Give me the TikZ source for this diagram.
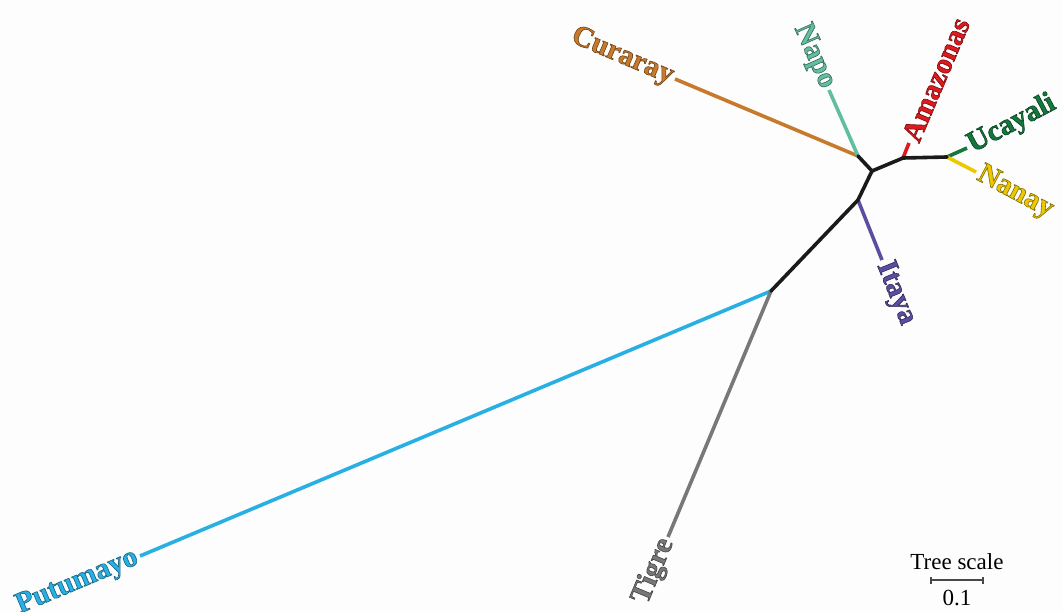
\documentclass[tikz,border=0pt]{standalone}
\usepackage{fontspec}
\setmainfont{Liberation Serif}
\definecolor{cCuraray}{RGB}{200,122,44}
\definecolor{cNapo}{RGB}{98,190,160}
\definecolor{cAmazonas}{RGB}{222,26,30}
\definecolor{cUcayali}{RGB}{18,120,60}
\definecolor{cNanay}{RGB}{236,200,0}
\definecolor{cItaya}{RGB}{90,78,160}
\definecolor{cTigre}{RGB}{120,120,120}
\definecolor{cPutumayo}{RGB}{40,175,228}
\definecolor{cInner}{RGB}{26,26,26}
\definecolor{cBack}{RGB}{253,253,253}
% text filled in its colour and stroked with a thin darker edge (PDF render mode 2)
\newcommand\edged[2]{\special{pdf:literal direct 2 Tr 0.6 w #1 RG}#2\special{pdf:literal direct 0 Tr}}
\begin{document}
\begin{tikzpicture}[x=1pt,y=-1pt,
  branch/.style={line width=3.6pt, line cap=butt},
  inner/.style={line width=3.6pt, color=cInner, line join=round, line cap=round},
  leaftext/.style={font=\fontsize{29.5}{33}\selectfont\bfseries, inner sep=3pt},
  scaletext/.style={font=\fontsize{23}{27}\selectfont, inner sep=1pt}]
\fill[cBack] (0,0) rectangle (1063,612);
\useasboundingbox (0,0) rectangle (1063,612);

% internal vertices
\coordinate (A) at (771,291);
\coordinate (B) at (858,200);
\coordinate (C) at (872,171);
\coordinate (D) at (858,156);
\coordinate (E) at (903,158);
\coordinate (F) at (947,157);

% leaf tips
\coordinate (lPutumayo) at (140,556);
\coordinate (lTigre) at (668,537);
\coordinate (lItaya) at (882,260);
\coordinate (lCuraray) at (675,79);
\coordinate (lNapo) at (829,90);
\coordinate (lAmazonas) at (909,143);
\coordinate (lUcayali) at (967,148);
\coordinate (lNanay) at (976,172);

% terminal branches
\draw[branch, cPutumayo] (A) -- (lPutumayo);
\draw[branch, cTigre] (A) -- (lTigre);
\draw[branch, cItaya] (B) -- (lItaya);
\draw[branch, cCuraray] (D) -- (lCuraray);
\draw[branch, cNapo] (D) -- (lNapo);
\draw[branch, cAmazonas] (E) -- (lAmazonas);
\draw[branch, cUcayali] (F) -- (lUcayali);
\draw[branch, cNanay] (F) -- (lNanay);

% internal branches
\draw[inner] (A) -- (B) -- (C) -- (D);
\draw[inner] (C) -- (E) -- (F);

% leaf labels
\node[leaftext, text=cPutumayo, rotate=22.8, anchor=east] (tPutumayo) at (lPutumayo) {\edged{0.09 0.38 0.49}{Putumayo}};
\node[leaftext, text=cTigre, rotate=67.3, anchor=east] (tTigre) at (lTigre) {\edged{0.26 0.26 0.26}{Tigre}};
\node[leaftext, text=cItaya, rotate=-68, anchor=west] (tItaya) at (lItaya) {\edged{0.2 0.17 0.35}{Itaya}};
\node[leaftext, text=cCuraray, rotate=-23, anchor=east] (tCuraray) at (lCuraray) {\edged{0.43 0.26 0.09}{Curaray}};
\node[leaftext, text=cNapo, rotate=-66, anchor=east] (tNapo) at (lNapo) {\edged{0.21 0.41 0.34}{Napo}};
\node[leaftext, text=cAmazonas, rotate=67, anchor=west] (tAmazonas) at (lAmazonas) {\edged{0.48 0.05 0.06}{Amazonas}};
\node[leaftext, text=cUcayali, rotate=28, anchor=west] (tUcayali) at (lUcayali) {\edged{0.04 0.26 0.13}{Ucayali}};
\node[leaftext, text=cNanay, rotate=-28, anchor=west] (tNanay) at (lNanay) {\edged{0.51 0.43 0.0}{Nanay}};

% tree scale
\node[scaletext, anchor=base] (scaletitle) at (957,569) {Tree scale};
\coordinate (sL) at (931,580);
\coordinate (sR) at (983,580);
\draw[line width=1.2pt, color=cInner!80] (sL) -- (sR);
\draw[line width=1.2pt, color=cInner!80] ([yshift=-3.5]sL) -- ([yshift=3.5]sL);
\draw[line width=1.2pt, color=cInner!80] ([yshift=-3.5]sR) -- ([yshift=3.5]sR);
\node[scaletext, anchor=base] (scalevalue) at (957,605) {0.1};
\end{tikzpicture}
\end{document}
